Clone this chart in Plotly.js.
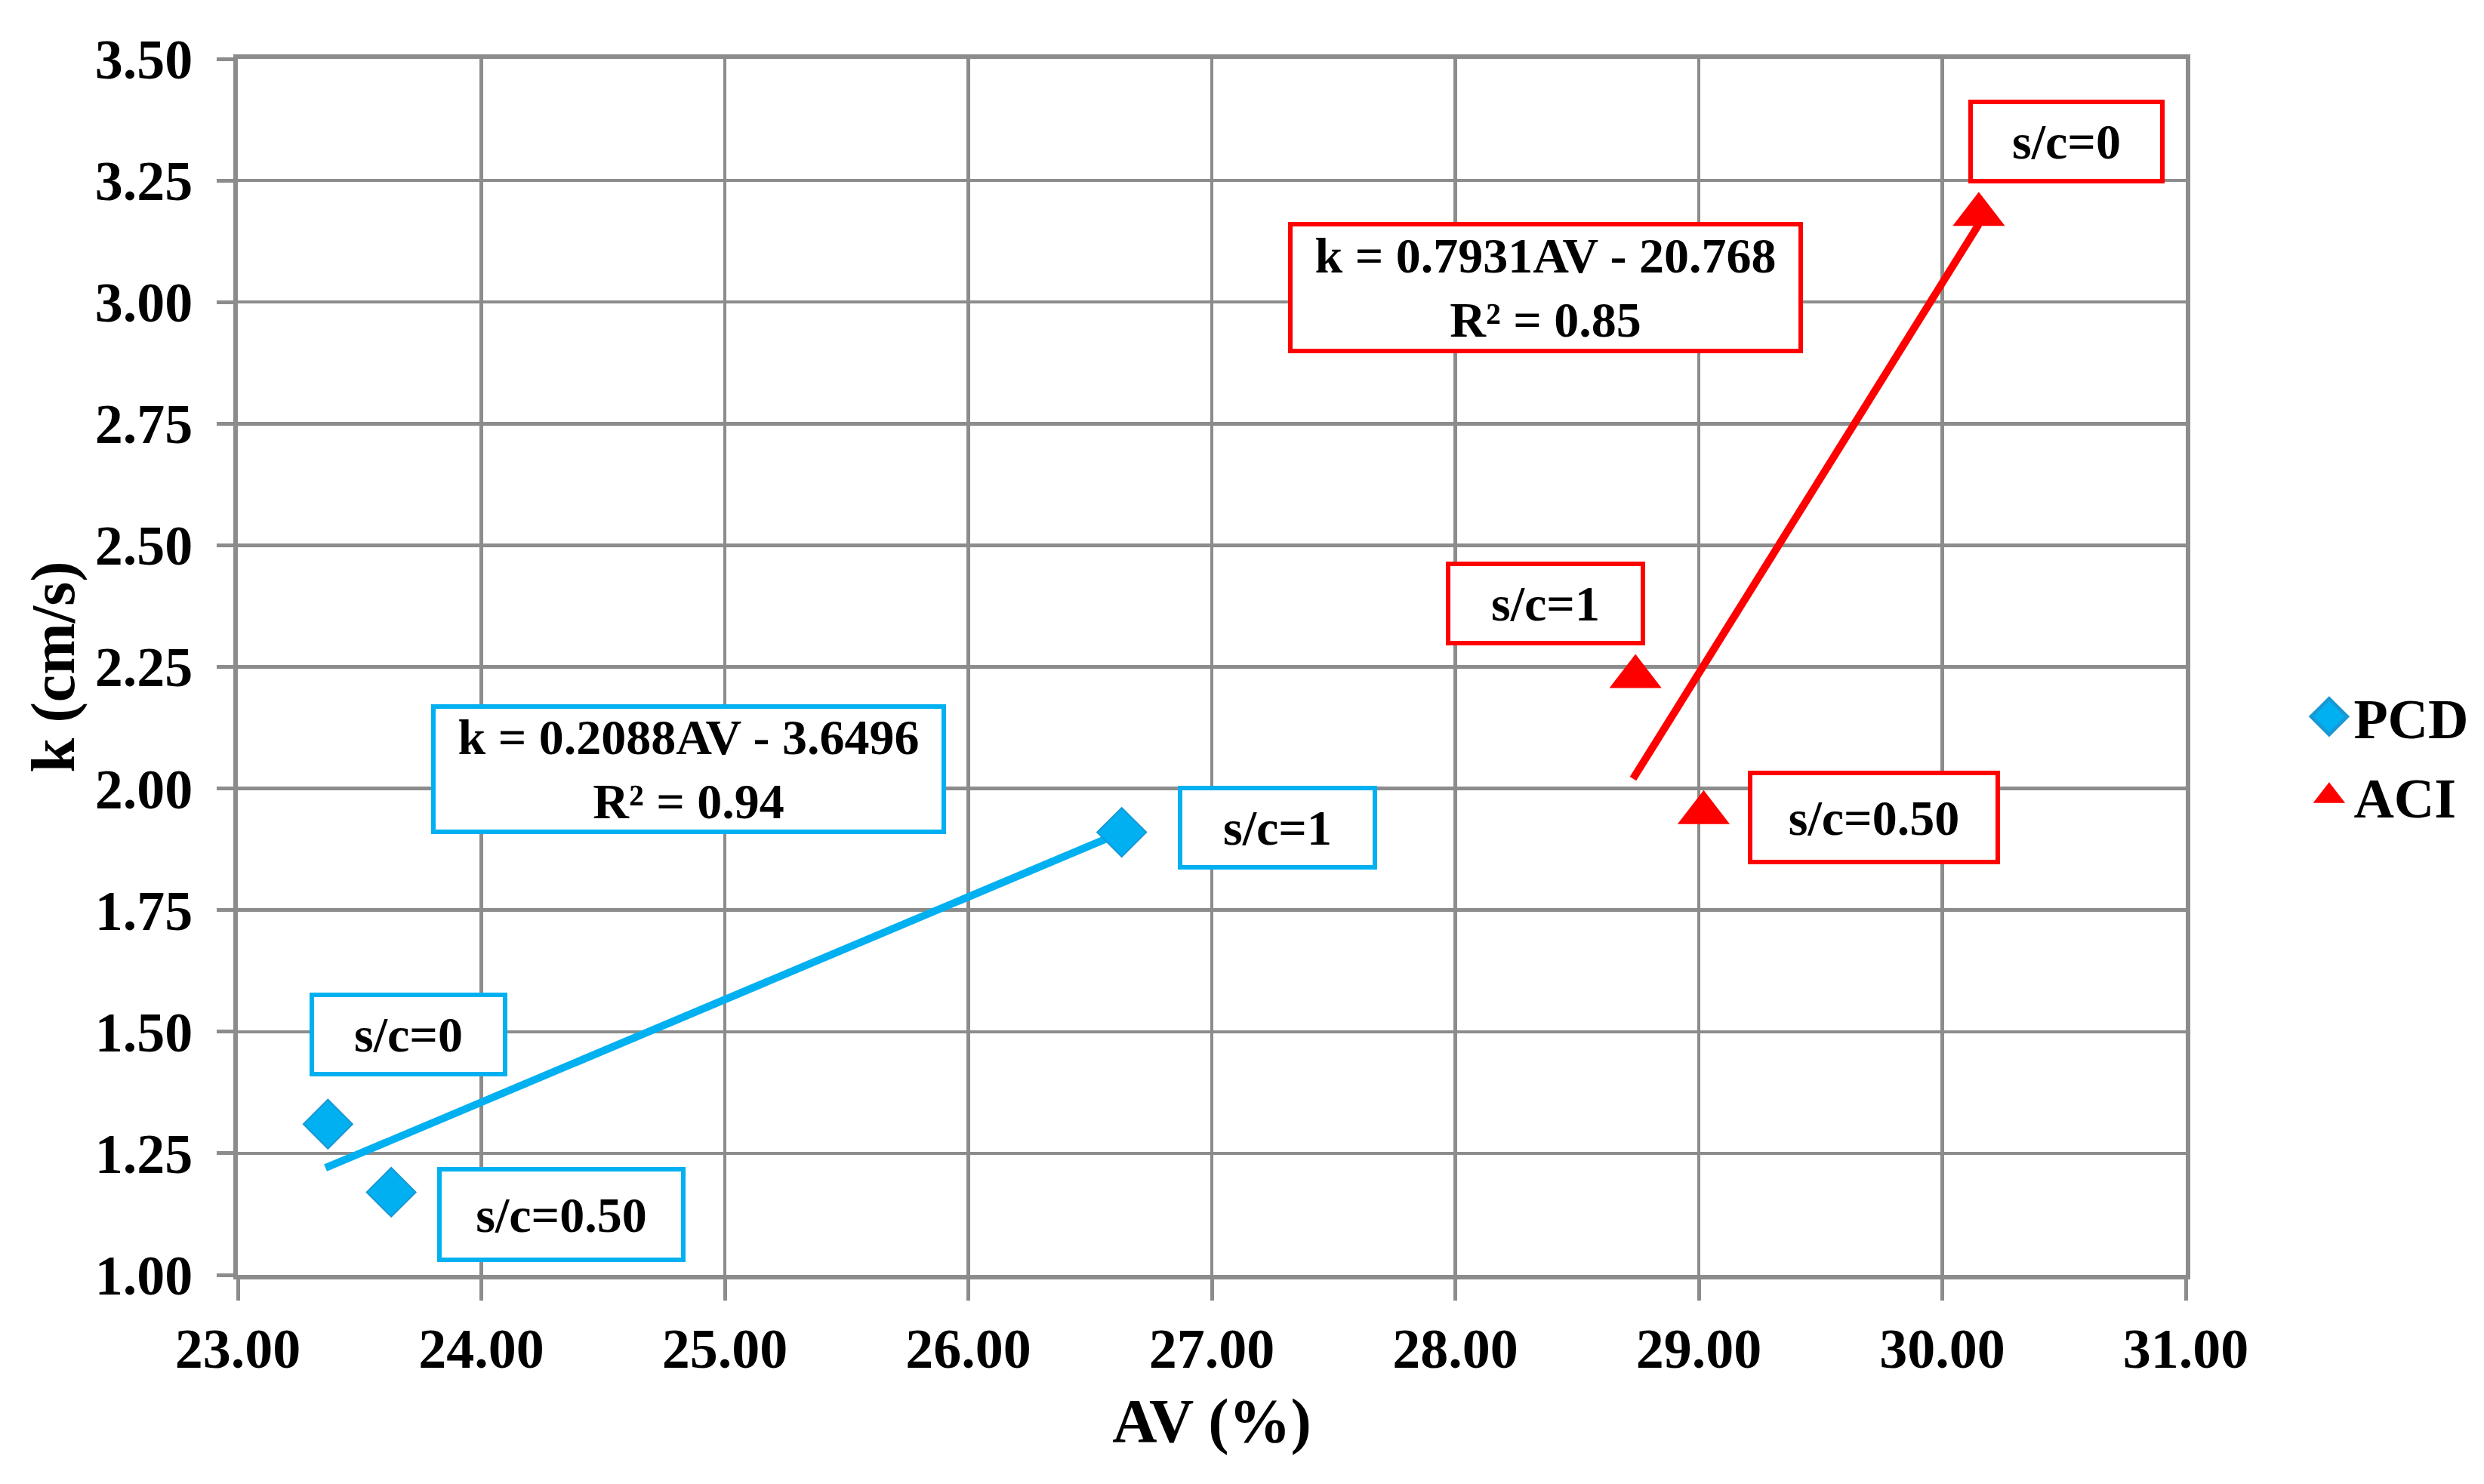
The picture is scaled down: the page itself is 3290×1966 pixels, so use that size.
<!DOCTYPE html>
<html>
<head>
<meta charset="utf-8">
<script src="https://cdn.plot.ly/plotly-3.0.1.min.js"></script>
<style>html,body{margin:0;padding:0;background:#fff;}#chart{width:3290px;height:1966px;}</style>
</head>
<body>
<div id="chart"></div>
<script>
// ---- data ----
const pcdAV = [23.37, 23.63, 26.63];
const pcdK  = [1.31, 1.17, 1.91];
const pcdLabels = ['s/c=0', 's/c=0.50', 's/c=1'];

const aciAV = [30.15, 28.74, 29.02];
const aciK  = [3.18, 2.23, 1.95];
const aciLabels = ['s/c=0', 's/c=1', 's/c=0.50'];

const pcdTrendAV = [23.36, 26.63];
const pcdTrendK  = [1.22, 1.91];
const aciTrendAV = [28.73, 30.15];
const aciTrendK  = [2.02, 3.16];

const pcdEquation = 'k = 0.2088AV - 3.6496<br>R² = 0.94';
const aciEquation = 'k = 0.7931AV - 20.768<br>R² = 0.85';

const xTickVals = [23, 24, 25, 26, 27, 28, 29, 30, 31];
const yTickVals = [1.00, 1.25, 1.50, 1.75, 2.00, 2.25, 2.50, 2.75, 3.00, 3.25, 3.50];

// ---- styling ----
const BLUE = '#00B0F0';
const RED = '#FF0000';
const GRID = '#8c8c8c';
const FONT = 'Liberation Serif, Times New Roman, serif';

const traces = [
  {x: pcdTrendAV, y: pcdTrendK, mode: 'lines', line: {color: BLUE, width: 10}, showlegend: false, hoverinfo: 'skip'},
  {x: aciTrendAV, y: aciTrendK, mode: 'lines', line: {color: RED, width: 10}, showlegend: false, hoverinfo: 'skip'},
  {x: pcdAV, y: pcdK, text: pcdLabels, name: 'PCD', mode: 'markers', legendgroup: 'a',
   marker: {symbol: 'diamond', size: 50, color: BLUE, line: {color: '#1a98d4', width: 2}}},
  {x: aciAV, y: aciK, text: aciLabels, name: 'ACI', mode: 'markers', legendgroup: 'b',
   marker: {symbol: 'triangle-up', size: 60, color: RED, line: {width: 0}}}
];

function box(x, y, text, color, w, h) {
  return {x: x, y: y, xref: 'x', yref: 'y', text: text, showarrow: false,
    xanchor: 'center', yanchor: 'middle', align: 'center', valign: 'middle',
    width: w, height: h, bordercolor: color, borderwidth: 6, borderpad: 0,
    bgcolor: '#ffffff',
    font: {family: FONT, size: 66, color: '#000', weight: 700}};
}

const annotations = [
  box(24.85, 2.04, pcdEquation, BLUE, 670, 160),
  box(27.27, 1.92, pcdLabels[2], BLUE, 252, 99),
  box(23.70, 1.495, pcdLabels[0], BLUE, 250, 99),
  box(24.33, 1.124, pcdLabels[1], BLUE, 317, 114),
  box(28.37, 3.03, aciEquation, RED, 670, 162),
  box(30.51, 3.33, aciLabels[0], RED, 248, 99),
  box(28.37, 2.38, aciLabels[1], RED, 252, 99),
  box(29.72, 1.94, aciLabels[2], RED, 322, 112)
];

const layout = {
  width: 3290, height: 1966,
  paper_bgcolor: '#ffffff', plot_bgcolor: '#ffffff',
  margin: {l: 315, r: 395, t: 78, b: 277},
  font: {family: FONT, color: '#000', weight: 700},
  xaxis: {
    range: [23, 31], tickvals: xTickVals, tickformat: '.2f',
    showgrid: true, gridcolor: GRID, gridwidth: 4.5,
    showline: true, linecolor: GRID, linewidth: 6, mirror: true,
    ticks: 'outside', ticklen: 28, tickwidth: 5, tickcolor: GRID,
    ticklabelstandoff: 0,
    tickfont: {family: FONT, size: 74, color: '#000', weight: 700},
    zeroline: false,
    title: {text: 'AV (%)', font: {family: FONT, size: 82, color: '#000', weight: 700}, standoff: 28}
  },
  yaxis: {
    range: [1, 3.5], tickvals: yTickVals, tickformat: '.2f',
    showgrid: true, gridcolor: GRID, gridwidth: 4.5,
    showline: true, linecolor: GRID, linewidth: 6, mirror: true,
    ticks: 'outside', ticklen: 22, tickwidth: 5, tickcolor: GRID,
    ticklabelstandoff: 17,
    tickfont: {family: FONT, size: 74, color: '#000', weight: 700},
    zeroline: false,
    title: {text: 'k (cm/s)', font: {family: FONT, size: 82, color: '#000', weight: 700}, standoff: 2}
  },
  showlegend: true,
  legend: {x: 1.061, xanchor: 'left', y: 0.4263, yanchor: 'middle', itemwidth: 55,
    font: {family: FONT, size: 74, color: '#000', weight: 700},
    tracegroupgap: 6, bgcolor: 'rgba(0,0,0,0)'},
  annotations: annotations
};

Plotly.newPlot('chart', traces, layout, {staticPlot: true}).then(function (gd) {
  gd.querySelectorAll('.legend .legendpoints path.scatterpts').forEach(function (p) {
    const t = p.getAttribute('transform') || '';
    p.setAttribute('transform', t + ' scale(2.3)');
  });
});
</script>
</body>
</html>
